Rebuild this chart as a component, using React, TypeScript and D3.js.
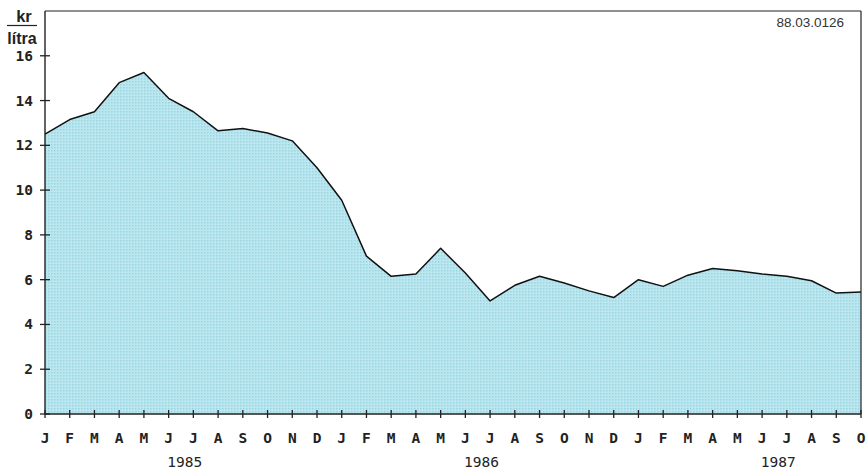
import React from "react";
import * as d3 from "d3";

const months = ["J","F","M","A","M","J","J","A","S","O","N","D","J","F","M","A","M","J","J","A","S","O","N","D","J","F","M","A","M","J","J","A","S","O"];
const prices = [12.5,13.15,13.5,14.8,15.25,14.1,13.5,12.65,12.75,12.55,12.2,11.0,9.55,7.05,6.15,6.25,7.4,6.3,5.05,5.75,6.15,5.85,5.5,5.2,6.0,5.7,6.2,6.5,6.4,6.25,6.15,5.95,5.4,5.45];
const years = ["1985","1986","1987"];
const yTicks = [0,2,4,6,8,10,12,14,16];

const W = 867, H = 472;
const left = 45, right = 861, top = 11, bottom = 414;

export default function App() {
  const x = d3.scaleLinear().domain([0, months.length - 1]).range([left, right]);
  const y = d3.scaleLinear().domain([0, 18]).range([bottom, top]);
  const area = d3.area<number>().x((_, i) => x(i)).y0(y(0)).y1(d => y(d));
  const line = d3.line<number>().x((_, i) => x(i)).y(d => y(d));
  const mono = "'DejaVu Sans Mono', monospace";
  const sans = "'Liberation Sans', Arial, sans-serif";
  return (
    <svg width={W} height={H} style={{ position: "absolute", left: 0, top: 0, background: "#fff" }}>
      <defs>
        <pattern id="dots" width={3} height={3} patternUnits="userSpaceOnUse">
          <rect width={3} height={3} fill="#bde7ef" />
          <rect width={1.5} height={1.5} fill="#98d6e4" />
        </pattern>
      </defs>
      <path d={area(prices) || ""} fill="url(#dots)" />
      <path d={line(prices) || ""} fill="none" stroke="#111" strokeWidth={1.5} strokeLinejoin="round" />
      <line x1={left} x2={right} y1={top} y2={top} stroke="#222" strokeWidth={1.2} />
      <line x1={right} x2={right} y1={top} y2={bottom} stroke="#222" strokeWidth={1.2} />
      <line x1={left} x2={left} y1={top} y2={bottom} stroke="#222" strokeWidth={1.4} />
      <line x1={left} x2={right} y1={bottom} y2={bottom} stroke="#222" strokeWidth={1.6} />
      {yTicks.map(t => (
        <g key={t}>
          <line x1={left - 5} x2={left + 5} y1={y(t)} y2={y(t)} stroke="#222" strokeWidth={1.3} />
          <text x={33} y={y(t) + 5} textAnchor="end" fontFamily={mono} fontWeight="bold" fontSize={14.5} fill="#222">{t}</text>
        </g>
      ))}
      {months.map((m, i) => (
        <g key={i}>
          <line x1={x(i)} x2={x(i)} y1={bottom - 4} y2={bottom + 4} stroke="#222" strokeWidth={1.3} />
          <text x={x(i)} y={443} textAnchor="middle" fontFamily={mono} fontWeight="bold" fontSize={14.5} fill="#222">{m}</text>
        </g>
      ))}
      {years.map((yr, k) => (
        <text key={yr} x={x(k * 12 + 5.65)} y={467} textAnchor="middle" fontFamily={mono} fontSize={14.5} fill="#222">{yr}</text>
      ))}
      <text x={24} y={22} textAnchor="middle" fontFamily={sans} fontWeight="bold" fontSize={16.5} fill="#222">kr</text>
      <line x1={7} x2={37} y1={25.5} y2={25.5} stroke="#222" strokeWidth={1.2} />
      <text x={22} y={44} textAnchor="middle" fontFamily={sans} fontWeight="bold" fontSize={16} fill="#222">lítra</text>
      <text x={844} y={27} textAnchor="end" fontFamily={sans} fontSize={13.5} fill="#333">88.03.0126</text>
    </svg>
  );
}
